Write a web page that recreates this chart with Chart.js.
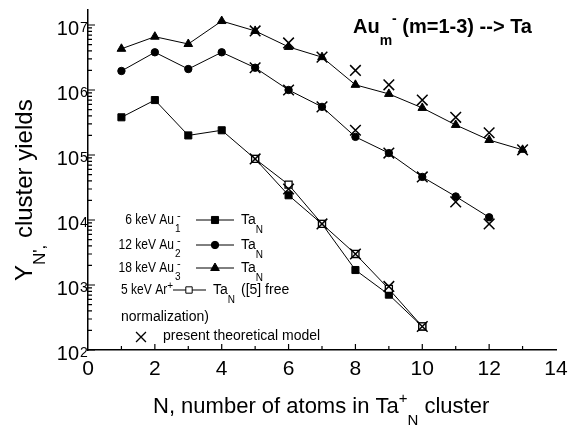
<!DOCTYPE html>
<html>
<head>
<meta charset="utf-8">
<script src="https://cdn.jsdelivr.net/npm/chart.js@4.4.1/dist/chart.umd.min.js"></script>
<style>
html, body { margin: 0; padding: 0; background: #fff; }
canvas { display: block; }
</style>
</head>
<body>
<canvas id="myChart" width="568" height="426"></canvas>
<script>
const clusterN = [1, 2, 3, 4, 5, 6, 7, 8, 9, 10, 11, 12, 13];
const au1Yield = [3.8e5, 7.0e5, 2.0e5, 2.4e5, 8.7e4, 2.4e4, 8.7e3, 1.7e3, 7.1e2, 2.3e2];
const au2Yield = [1.96e6, 3.8e6, 2.1e6, 3.8e6, 2.2e6, 1.0e6, 5.5e5, 1.9e5, 1.07e5, 4.6e4, 2.3e4, 1.1e4];
const au3Yield = [4.3e6, 6.6e6, 5.1e6, 1.15e7, 8.1e6, 4.6e6, 3.2e6, 1.2e6, 8.7e5, 5.3e5, 2.9e5, 1.7e5, 1.2e5];
const arN = [5, 6, 7, 8, 9, 10];
const arYield = [8.7e4, 3.5e4, 8.7e3, 3.0e3, 8.7e2, 2.3e2];

// theoretical model (crosses)
const modelAu1N = [5, 6, 7, 8, 9, 10];
const modelAu1 = [8.7e4, 3.0e4, 8.7e3, 3.0e3, 9.5e2, 2.3e2];
const modelAu2N = [5, 6, 7, 8, 9, 10, 11, 12];
const modelAu2 = [2.2e6, 1.0e6, 5.5e5, 2.4e5, 1.07e5, 4.6e4, 1.9e4, 8.7e3];
const modelAu3N = [5, 6, 7, 8, 9, 10, 11, 12, 13];
const modelAu3 = [8.1e6, 5.3e6, 3.2e6, 2.0e6, 1.2e6, 7.0e5, 3.8e5, 2.2e5, 1.2e5];

const xTicks = [0, 2, 4, 6, 8, 10, 12, 14];
const yDecades = [2, 3, 4, 5, 6, 7];
const legendEnergy = ['6 keV Au', '12 keV Au', '18 keV Au'];
const legendIndex = ['1', '2', '3'];

const FONT = '"Liberation Sans", Arial, sans-serif';

function pts(xs, ys) {
    return ys.map((y, i) => ({x: xs[i], y: y}));
}

// draws text pieces one after another; mode '' / 'sub' / 'sup'
function rich(ctx, parts, x, y, size, weight, subK) {
    let cx = x;
    subK = subK || 0.62;
    parts.forEach(([t, mode]) => {
        const s = mode ? Math.round(size * 0.7) : size;
        ctx.font = (weight || '') + ' ' + s + 'px ' + FONT;
        let dy = 0;
        if (mode === 'sub') dy = size * subK;
        if (mode === 'sup') dy = -size * 0.38;
        ctx.fillText(t, cx, y + dy);
        cx += ctx.measureText(t).width;
    });
    return cx;
}

// narrow text (the legend labels are condensed in the original)
function narrow(ctx, text, x, y, size, align) {
    ctx.save();
    ctx.font = size + 'px ' + FONT;
    ctx.textAlign = align;
    ctx.translate(x, y);
    ctx.scale(0.86, 1);
    ctx.fillText(text, 0, 0);
    const w = ctx.measureText(text).width * 0.86;
    ctx.restore();
    return w;
}

const decor = {
    id: 'decor',
    afterDraw(chart) {
        const ctx = chart.ctx;
        const xs = chart.scales.x, ys = chart.scales.y;
        const area = chart.chartArea;
        ctx.save();
        ctx.strokeStyle = '#000';
        ctx.fillStyle = '#000';
        ctx.lineWidth = 1.2;

        // inward ticks on x
        ctx.beginPath();
        for (let n = 1; n < 14; n++) {
            const px = xs.getPixelForValue(n);
            ctx.moveTo(px, area.bottom);
            ctx.lineTo(px, area.bottom - (n % 2 ? 4 : 6));
        }
        // inward ticks on y (log)
        yDecades.forEach(d => {
            for (let k = 1; k < 10; k++) {
                const v = k * Math.pow(10, d);
                if (v > ys.max) break;
                const py = ys.getPixelForValue(v);
                ctx.moveTo(area.left, py);
                ctx.lineTo(area.left + (k === 1 ? 7 : 4), py);
            }
        });
        ctx.stroke();

        // x tick labels
        ctx.textBaseline = 'alphabetic';
        ctx.textAlign = 'center';
        ctx.font = '21px ' + FONT;
        xTicks.forEach(v => {
            ctx.fillText(String(v), xs.getPixelForValue(v), area.bottom + 25);
        });

        // y tick labels 10^d
        yDecades.forEach(d => {
            const py = ys.getPixelForValue(Math.pow(10, d));
            ctx.textAlign = 'right';
            ctx.font = '20px ' + FONT;
            ctx.fillText('10', area.left - 9, py + 10);
            ctx.textAlign = 'left';
            ctx.font = '14px ' + FONT;
            ctx.fillText(String(d), area.left - 8, py + 7);
        });

        // axis titles
        ctx.textAlign = 'left';
        ctx.textBaseline = 'middle';
        rich(ctx, [['N, number of atoms in Ta', ''], ['+', 'sup'], ['N', 'sub'], [' cluster', '']], 153, 407, 22);

        ctx.save();
        ctx.translate(25, 281);
        ctx.rotate(-Math.PI / 2);
        rich(ctx, [['Y', ''], ["N',", 'sub'], [' cluster yields', '']], 0, 0, 24);
        ctx.restore();

        // chart title
        rich(ctx, [['Au', ''], ['m', 'sub'], ['-', 'sup'], [' (m=1-3) --> Ta', '']], 353, 27, 20, 'bold', 0.72);

        // legend
        const styles = ['rect', 'circle', 'triangle'];
        const radii = [5, 3.7, 5];
        const rowY = [220, 245, 268];
        for (let i = 0; i < 3; i++) {
            const y = rowY[i];
            narrow(ctx, legendEnergy[i], 174, y, 14, 'right');
            ctx.textAlign = 'left';
            ctx.font = '10px ' + FONT;
            ctx.fillText(legendIndex[i], 175, y + 9);
            ctx.font = '11px ' + FONT;
            ctx.fillText('-', 177, y - 4);
            ctx.lineWidth = 1;
            ctx.beginPath();
            ctx.moveTo(196, y);
            ctx.lineTo(234, y);
            ctx.stroke();
            Chart.helpers.drawPoint(ctx, {pointStyle: styles[i], radius: radii[i], borderWidth: 1, rotation: 0}, 215, y);
            rich(ctx, [['Ta', ''], ['N', 'sub']], 241, y, 14, '', 0.7);
        }
        const y4 = 290;
        ctx.textAlign = 'left';
        const wAr = narrow(ctx, '5 keV Ar', 121, y4, 14, 'left');
        ctx.font = '10px ' + FONT;
        ctx.fillText('+', 121 + wAr, y4 - 4);
        ctx.lineWidth = 1;
        ctx.beginPath();
        ctx.moveTo(173, y4);
        ctx.lineTo(206, y4);
        ctx.stroke();
        ctx.fillStyle = '#fff';
        Chart.helpers.drawPoint(ctx, {pointStyle: 'rect', radius: 4.5, borderWidth: 1, rotation: 0}, 189, y4);
        ctx.fillStyle = '#000';
        const wTa = rich(ctx, [['Ta', ''], ['N', 'sub']], 213, y4, 14, '', 0.7);
        ctx.font = '14px ' + FONT;
        ctx.fillText('([5] free', Math.max(wTa + 3, 241), y4);
        ctx.fillText('normalization)', 121, 317);
        ctx.lineWidth = 1.3;
        Chart.helpers.drawPoint(ctx, {pointStyle: 'crossRot', radius: 7, borderWidth: 1.3, rotation: 0}, 141, 337);
        ctx.font = '14px ' + FONT;
        ctx.fillText('present theoretical model', 163, 336);

        ctx.restore();
    }
};

const ctx = document.getElementById('myChart');

const modelStyle = {
    showLine: false,
    pointStyle: 'crossRot',
    pointRadius: 7.5,
    pointBorderWidth: 1.5,
    borderColor: '#000',
    pointBorderColor: '#000',
    order: 0
};

const chart = new Chart(ctx, {
    type: 'line',
    data: {
        datasets: [
            Object.assign({label: 'model Au1', data: pts(modelAu1N, modelAu1)}, modelStyle),
            Object.assign({label: 'model Au2', data: pts(modelAu2N, modelAu2)}, modelStyle),
            Object.assign({label: 'model Au3', data: pts(modelAu3N, modelAu3)}, modelStyle),
            {
                label: '5 keV Ar+',
                data: pts(arN, arYield),
                borderColor: '#000', borderWidth: 1,
                pointStyle: 'rect', pointRadius: 5, pointBorderWidth: 1.3,
                pointBackgroundColor: '#fff', pointBorderColor: '#000',
                order: 1
            },
            {
                label: '6 keV Au1-',
                data: pts(clusterN, au1Yield),
                borderColor: '#000', borderWidth: 1,
                pointStyle: 'rect', pointRadius: 5, pointBorderWidth: 1,
                pointBackgroundColor: '#000', pointBorderColor: '#000',
                order: 2
            },
            {
                label: '12 keV Au2-',
                data: pts(clusterN, au2Yield),
                borderColor: '#000', borderWidth: 1,
                pointStyle: 'circle', pointRadius: 3.7, pointBorderWidth: 1,
                pointBackgroundColor: '#000', pointBorderColor: '#000',
                order: 2
            },
            {
                label: '18 keV Au3-',
                data: pts(clusterN, au3Yield),
                borderColor: '#000', borderWidth: 1,
                pointStyle: 'triangle', pointRadius: 5, pointBorderWidth: 1,
                pointBackgroundColor: '#000', pointBorderColor: '#000',
                order: 2
            }
        ]
    },
    options: {
        responsive: false,
        animation: false,
        devicePixelRatio: 1,
        layout: {padding: {left: 88, right: 12, top: 10, bottom: 76}},
        elements: {line: {tension: 0}},
        plugins: {legend: {display: false}, tooltip: {enabled: false}},
        scales: {
            x: {
                type: 'linear', min: 0, max: 14,
                grid: {display: false, drawTicks: false},
                ticks: {display: false},
                border: {display: true, color: '#000', width: 1.5}
            },
            y: {
                type: 'logarithmic', min: 100, max: 1.7e7,
                grid: {display: false, drawTicks: false},
                ticks: {display: false},
                border: {display: true, color: '#000', width: 1.5}
            }
        }
    },
    plugins: [decor]
});
</script>
</body>
</html>
